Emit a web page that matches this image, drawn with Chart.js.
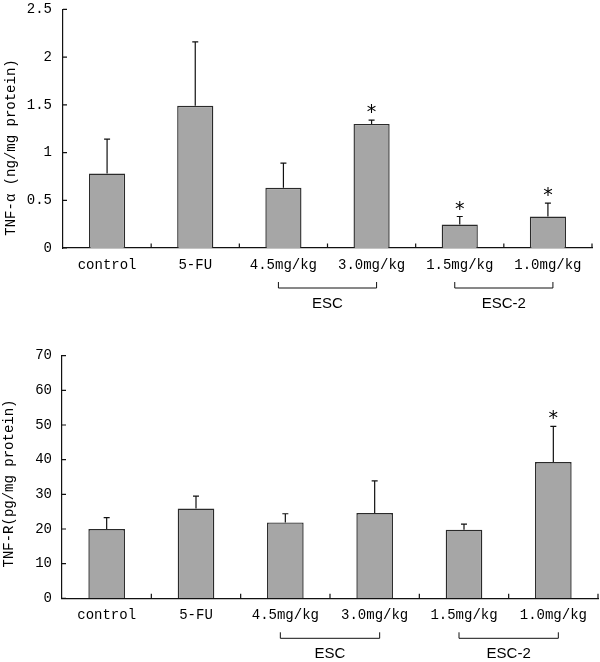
<!DOCTYPE html>
<html lang="en">
<head>
<meta charset="UTF-8">
<script src="https://cdn.jsdelivr.net/npm/chart.js"></script>
<title>TNF-α / TNF-R</title>
<style>
  body { margin: 0; background: #fff; }
  #wrap { position: relative; width: 600px; height: 662px; overflow: hidden; background: #fff; }
  canvas { position: absolute; left: 0; }
  #chartAlpha { top: -10px; }
  #chartR { top: 330px; }
</style>
</head>
<body>
<div id="wrap">
  <canvas id="chartAlpha" width="600" height="340"></canvas>
  <canvas id="chartR" width="600" height="332"></canvas>
</div>
<script>
// data
const categories = ['control', '5-FU', '4.5mg/kg', '3.0mg/kg', '1.5mg/kg', '1.0mg/kg'];

const alphaValues = [0.78, 1.49, 0.63, 1.30, 0.245, 0.33];
const alphaErrors = [0.36, 0.67, 0.26, 0.04, 0.085, 0.14];
const alphaStars = [false, false, false, true, true, true];
const alphaTicks = [0, 0.5, 1, 1.5, 2, 2.5];

const rValues = [20.0, 25.9, 21.9, 24.6, 19.8, 39.3];
const rErrors = [3.3, 3.6, 2.5, 9.3, 1.6, 10.3];
const rStars = [false, false, false, false, false, true];
const rTicks = [0, 10, 20, 30, 40, 50, 60, 70];

const groupLabels = ['ESC', 'ESC-2'];
const groupFirst = [2, 4];
const groupLast = [3, 5];

const monoFont = '"Liberation Mono", monospace';

// error bars, stars, inner ticks, brackets and the y title
const extras = {
  id: 'extras',
  afterDraw(chart, args, opts) {
    const ctx = chart.ctx;
    const xs = chart.scales.x, ys = chart.scales.y, area = chart.chartArea;
    const meta = chart.getDatasetMeta(0);
    ctx.save();
    ctx.strokeStyle = '#111';
    ctx.fillStyle = '#000';
    ctx.lineWidth = 1.2;

    // ticks pointing inwards
    ctx.beginPath();
    ys.ticks.forEach(t => {
      const py = ys.getPixelForValue(t.value);
      ctx.moveTo(area.left, py);
      ctx.lineTo(area.left + 4, py);
    });
    for (let i = 1; i <= categories.length; i++) {
      const px = xs.getPixelForValue(i - 0.5);
      ctx.moveTo(px, area.bottom);
      ctx.lineTo(px, area.bottom - 4.5);
    }
    ctx.stroke();

    // error bars (upper only)
    meta.data.forEach((bar, i) => {
      const v = opts.values[i], e = opts.errors[i];
      const y0 = ys.getPixelForValue(v);
      const y1 = ys.getPixelForValue(v + e);
      ctx.beginPath();
      ctx.moveTo(bar.x, y0);
      ctx.lineTo(bar.x, y1);
      ctx.moveTo(bar.x - 3, y1);
      ctx.lineTo(bar.x + 3, y1);
      ctx.stroke();
      if (opts.stars[i]) {
        ctx.font = '19px "DejaVu Sans"';
        ctx.textAlign = 'center';
        ctx.textBaseline = 'alphabetic';
        ctx.fillText('*', bar.x, y1 - 2);
      }
    });

    // group brackets
    ctx.lineWidth = 1;
    groupLabels.forEach((lab, g) => {
      const x1 = xs.getPixelForValue(groupFirst[g]) - 5;
      const x2 = xs.getPixelForValue(groupLast[g]) + 5;
      const yt = area.bottom + 34, yb = area.bottom + 40;
      ctx.beginPath();
      ctx.moveTo(x1, yt);
      ctx.lineTo(x1, yb);
      ctx.lineTo(x2, yb);
      ctx.lineTo(x2, yt);
      ctx.stroke();
      ctx.font = '15px "Liberation Sans"';
      ctx.textAlign = 'center';
      ctx.textBaseline = 'middle';
      ctx.fillText(lab, (x1 + x2) / 2, area.bottom + 56);
    });

    // y axis title
    ctx.translate(opts.titleX, opts.titleY);
    ctx.rotate(-Math.PI / 2);
    ctx.font = '14px ' + monoFont;
    ctx.textAlign = 'center';
    ctx.textBaseline = 'middle';
    ctx.fillText(opts.title, 0, 0);
    ctx.restore();
  }
};

function makeChart(id, values, errors, stars, ticks, title, lay) {
  return new Chart(document.getElementById(id), {
    type: 'bar',
    data: {
      labels: categories,
      datasets: [{
        data: values,
        backgroundColor: '#a6a6a6',
        borderColor: '#2a2a2a',
        borderWidth: 1.4,
        barPercentage: 0.41,
        categoryPercentage: 1
      }]
    },
    options: {
      responsive: false,
      animation: false,
      layout: { padding: { top: lay.top, right: lay.right, left: 0, bottom: 0 } },
      plugins: {
        legend: { display: false },
        tooltip: { enabled: false },
        extras: { values: values, errors: errors, stars: stars, title: title,
                  titleX: lay.titleX, titleY: lay.titleY }
      },
      scales: {
        x: {
          grid: { display: false, drawTicks: false },
          border: { display: true, color: '#111', width: 1.2 },
          ticks: { color: '#000', font: { family: monoFont, size: 14 }, padding: 8.6, maxRotation: 0, autoSkip: false },
          afterFit: s => { s.height = lay.xHeight; }
        },
        y: {
          min: ticks[0],
          max: ticks[ticks.length - 1],
          grid: { display: false, drawTicks: false },
          border: { display: true, color: '#111', width: 1.2 },
          ticks: { color: '#000', font: { family: monoFont, size: 14 }, padding: lay.yPad,
                   callback: v => String(v) },
          afterBuildTicks: s => { s.ticks = ticks.map(v => ({ value: v })); },
          afterFit: s => { s.width = lay.yWidth; }
        }
      }
    },
    plugins: [extras]
  });
}

makeChart('chartAlpha', alphaValues, alphaErrors, alphaStars, alphaTicks, 'TNF-α (ng/mg protein)',
  { top: 15.7, right: 8, xHeight: 82, yWidth: 63, yPad: 11, titleX: 11, titleY: 157.5 });

makeChart('chartR', rValues, rErrors, rStars, rTicks, 'TNF-R(pg/mg protein)',
  { top: 25.7, right: 2, xHeight: 63.7, yWidth: 62, yPad: 10, titleX: 9.5, titleY: 153.5 });
</script>
</body>
</html>
